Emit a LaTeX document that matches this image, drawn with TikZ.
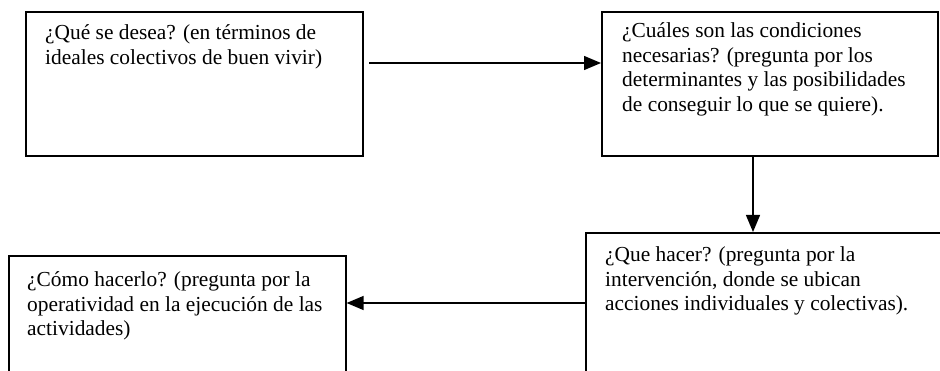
\documentclass[tikz,border=0pt]{standalone}
\usepackage{fontspec}
\setmainfont{Liberation Serif}
\usetikzlibrary{arrows.meta}
\newcommand{\txtlines}[1]{\vtop{\baselineskip=24.5pt\lineskiplimit=-20pt\halign{##\hfil\cr#1\crcr}}}
\begin{document}
\begin{tikzpicture}[x=1pt,y=1pt,
  box/.style={draw, line width=1.6pt, anchor=north west, inner sep=0pt},
  txt/.style={anchor=base west, inner sep=0pt,
    font=\fontsize{21.4}{24.5}\selectfont},
  arr/.style={line width=1.3pt, -{Triangle[length=17pt,width=14pt]}}]
\useasboundingbox (0,0) rectangle (940,-371);
\clip (0,0) rectangle (940,-371);
\node[box, minimum width=337pt, minimum height=144pt] (b1) at (25,-11) {};
\node[box, minimum width=336pt, minimum height=144pt] (b2) at (601,-11) {};
\node[box, minimum width=380pt, minimum height=170pt] (b3) at (585,-232) {};
\node[box, minimum width=337pt, minimum height=150pt] (b4) at (8,-255) {};
\node[txt] (t1) at (45,-40) {\txtlines{¿Qué se desea? (en términos de\cr ideales colectivos de buen vivir)}};
\node[txt] (t2) at (622,-38) {\txtlines{¿Cuáles son las condiciones\cr necesarias? (pregunta por los\cr determinantes y las posibilidades\cr de conseguir lo que se quiere).}};
\node[txt] (t3) at (605,-262) {\txtlines{¿Que hacer? (pregunta por la\cr intervención, donde se ubican\cr acciones individuales y colectivas).}};
\node[txt] (t4) at (27,-287) {\txtlines{¿Cómo hacerlo? (pregunta por la\cr operatividad en la ejecución de las\cr actividades)}};
\coordinate (c1) at (369,-63);
\coordinate (c2) at (753,0);
\coordinate (c3) at (0,-303);
\draw[arr] (c1) -- (b2.west |- c1);
\draw[arr] (b2.south -| c2) -- (b3.north -| c2);
\draw[arr] (b3.west |- c3) -- (b4.east |- c3);
\end{tikzpicture}
\end{document}
